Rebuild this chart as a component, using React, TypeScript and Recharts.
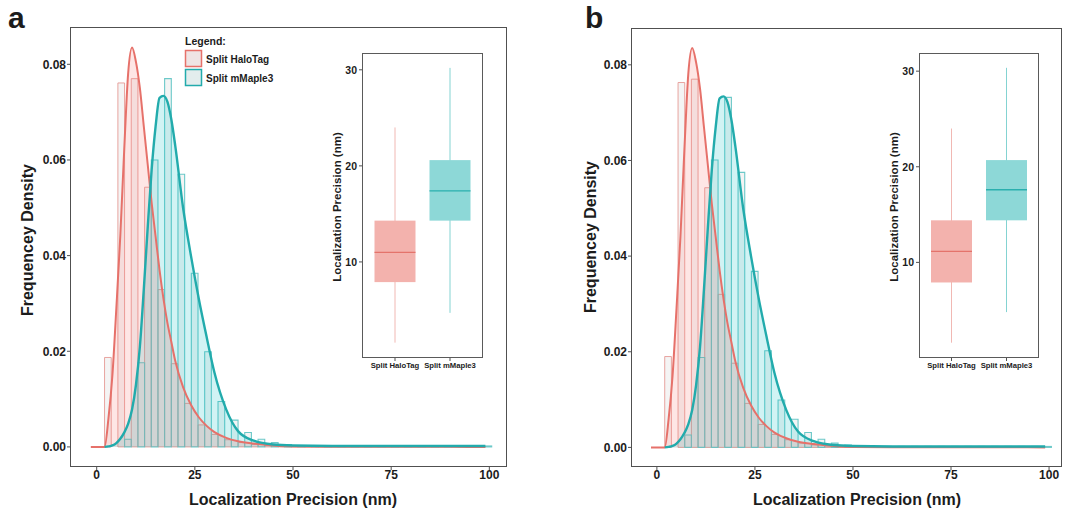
import { ComposedChart, Area, Line, Bar, XAxis, YAxis, ReferenceArea, Legend } from 'recharts';

// histogram bins (nm), each bin split in two halves: HaloTag left, mMaple3 right
const binStart = [2.0, 5.4, 8.8, 12.2, 15.6, 19.0, 22.4, 25.8, 29.2, 32.6, 36.0, 39.4, 42.8, 46.2, 49.6, 53.0, 56.4, 59.8, 63.2, 66.6, 70.0, 73.4, 76.8, 80.2, 83.6, 87.0, 90.4, 93.8, 97.2];
const BIN = 3.4;

const haloHistA = [0.0187, 0.0761, 0.0770, 0.0543, 0.0329, 0.0174, 0.0091, 0.0046, 0.0026, 0.0015, 0.0009, 0.0005, 0.0003, 0.0002, 0.0001, 0.0001, 0.0001, 0.0001, 0.0001, 0.0001, 0.0001, 0.0001, 0.0001, 0.0001, 0.0001, 0.0001, 0.0001, 0.0001, 0.0001];
const mapleHistA = [0, 0.0016, 0.0176, 0.0600, 0.0770, 0.0570, 0.0363, 0.0199, 0.0095, 0.0056, 0.0030, 0.0016, 0.0009, 0.0005, 0.0003, 0.0002, 0.0002, 0.0002, 0.0002, 0.0002, 0.0002, 0.0002, 0.0002, 0.0002, 0.0002, 0.0002, 0.0002, 0.0002, 0.0002];
const haloHistB = [0.0190, 0.0763, 0.0770, 0.0543, 0.0320, 0.0176, 0.0092, 0.0048, 0.0027, 0.0016, 0.0009, 0.0005, 0.0003, 0.0002, 0.0001, 0.0001, 0.0001, 0.0001, 0.0001, 0.0001, 0.0001, 0.0001, 0.0001, 0.0001, 0.0001, 0.0001, 0.0001, 0.0001, 0.0001];
const mapleHistB = [0, 0.0026, 0.0188, 0.0601, 0.0732, 0.0575, 0.0368, 0.0202, 0.0099, 0.0059, 0.0031, 0.0017, 0.0009, 0.0005, 0.0003, 0.0002, 0.0002, 0.0002, 0.0002, 0.0002, 0.0002, 0.0002, 0.0002, 0.0002, 0.0002, 0.0002, 0.0002, 0.0002, 0.0002];

// density curves
const densX = [-1.5, 2, 3, 4, 5, 6, 7, 8, 9, 10, 11, 12, 13, 14, 15, 16, 17, 18, 19, 20, 22, 24, 26, 28, 30, 33, 36, 40, 45, 50, 60, 70, 80, 90, 99];
const haloDens = [0, 0, 0.006, 0.015, 0.029, 0.044, 0.062, 0.078, 0.0835, 0.0805, 0.075, 0.067, 0.059, 0.051, 0.044, 0.037, 0.031, 0.026, 0.022, 0.018, 0.0125, 0.0088, 0.0062, 0.0044, 0.0031, 0.0019, 0.0012, 0.0007, 0.0003, 0.0001, 0.00005, 0.00003, 0.00002, 0.00001, 0];
const mapleDens = [null, 0, 0.0001, 0.0003, 0.0008, 0.0017, 0.003, 0.0048, 0.0078, 0.013, 0.021, 0.033, 0.046, 0.058, 0.067, 0.073, 0.0734, 0.0722, 0.0685, 0.063, 0.050, 0.040, 0.031, 0.023, 0.0155, 0.0078, 0.0033, 0.0013, 0.0005, 0.0003, 0.0002, 0.0002, 0.0002, 0.0002, 0.0002];

const xTicks = [0, 25, 50, 75, 100];
const yTicks = [0, 0.02, 0.04, 0.06, 0.08];

// inset box plots
const boxNames = ['Split HaloTag', 'Split mMaple3'];
const boxMinA = [1.6, 4.7];
const boxQ1A = [7.9, 14.3];
const boxMedA = [11.0, 17.4];
const boxQ3A = [14.3, 20.6];
const boxMaxA = [24.0, 30.2];
const boxMinB = [1.6, 4.8];
const boxQ1B = [7.9, 14.4];
const boxMedB = [11.15, 17.6];
const boxQ3B = [14.4, 20.7];
const boxMaxB = [24.0, 30.35];
const insetTicks = [10, 20, 30];

const FONT = '"Liberation Sans", Arial, Helvetica, sans-serif';
const INK = '#1c1c1c';
const FRAME = '#505050';
const RED = '#E6716A';
const TEAL = '#22ABAC';
const boxFill = ['#F3B2AD', '#8DD8D7'];
const boxMid = ['#E4736B', '#2AAFAE'];
const boxWhisk = ['#F1B8B3', '#84D3D2'];

const renderLegend = () => (
  <svg width={130} height={56} style={{ display: 'block', fontFamily: FONT }}>
    <text x={2} y={12} fontSize={10.5} fontWeight={700} fill={INK}>Legend:</text>
    {boxNames.map((name, i) => (
      <g key={name}>
        <rect x={2.5} y={17.5 + i * 19} width={16} height={16} fill={i === 0 ? '#EFE4E4' : '#E3EDED'}
          stroke={i === 0 ? RED : TEAL} strokeWidth={1.5} />
        <text x={23} y={30 + i * 19} fontSize={10} fontWeight={700} fill={INK}>{name}</text>
      </g>
    ))}
  </svg>
);

function HistPanel({ left, halo, maple, xDomain, yDomain, margin, showLegend }: any) {
  const rows = densX.map((x, i) => ({ x, halo: haloDens[i], maple: mapleDens[i] }));
  const tick = { fontSize: 12, fontWeight: 700, fill: INK, fontFamily: FONT };
  const half = BIN / 2;
  return (
    <div style={{ position: 'absolute', left, top: 0 }}>
      <ComposedChart width={530} height={513} data={rows} margin={margin}>
        <XAxis dataKey="x" type="number" domain={xDomain} allowDataOverflow ticks={xTicks}
          axisLine={false} tickSize={3} tickMargin={0} tickLine={{ stroke: FRAME }} tick={tick} height={30} />
        <YAxis type="number" domain={yDomain} allowDataOverflow ticks={yTicks} tickFormatter={(v) => v.toFixed(2)}
          axisLine={false} tickSize={3} tickMargin={1} tickLine={{ stroke: FRAME }} tick={tick} width={40} />
        {binStart.map((b, i) => (
          <ReferenceArea key={'h' + i} x1={b} x2={b + half} y1={0} y2={halo[i]} ifOverflow="visible"
            fill="#dcdcdc" fillOpacity={0.3} stroke="#E59A95" strokeWidth={0.9} />
        ))}
        {binStart.map((b, i) => (
          <ReferenceArea key={'m' + i} x1={b + half} x2={b + BIN} y1={0} y2={maple[i]} ifOverflow="visible"
            fill="#dcdcdc" fillOpacity={0.3} stroke="#6CC9C9" strokeWidth={1.1} />
        ))}
        <Area dataKey="maple" type="monotone" baseValue={0} stroke="none" fill="#00BFC4" fillOpacity={0.18} isAnimationActive={false} />
        <Area dataKey="halo" type="monotone" baseValue={0} stroke="none" fill="#F8766D" fillOpacity={0.18} isAnimationActive={false} />
        <Line dataKey="halo" type="monotone" stroke={RED} strokeWidth={2} dot={false} isAnimationActive={false} />
        <Line dataKey="maple" type="monotone" stroke={TEAL} strokeWidth={2.4} dot={false} connectNulls={false} isAnimationActive={false} />
        {showLegend && (
          <Legend layout="horizontal" verticalAlign="middle" align="center" content={renderLegend}
            wrapperStyle={{ left: 183, top: 33, width: 130, height: 56 }} />
        )}
      </ComposedChart>
    </div>
  );
}

const BoxShape = (props: any) => {
  const { x, y, width, height, payload, index } = props;
  const span = payload.max - payload.min;
  const at = (v: number) => y + (height * (payload.max - v)) / span;
  const cx = x + width / 2;
  return (
    <g>
      <line x1={cx} x2={cx} y1={y} y2={y + height} stroke={boxWhisk[index]} strokeWidth={1} />
      <rect x={x} y={at(payload.q3)} width={width} height={at(payload.q1) - at(payload.q3)} fill={boxFill[index]} />
      <line x1={x} x2={x + width} y1={at(payload.med)} y2={at(payload.med)} stroke={boxMid[index]} strokeWidth={1.4} />
    </g>
  );
};

function InsetBox({ left, width, mins, q1s, meds, q3s, maxs, yMax }: any) {
  const rows = boxNames.map((name, i) => ({ name, min: mins[i], q1: q1s[i], med: meds[i], q3: q3s[i], max: maxs[i] }));
  const plotW = width - 65;
  const pad = (plotW - 110) / 2;
  return (
    <div style={{ position: 'absolute', left, top: 48 }}>
      <ComposedChart width={width} height={335} data={rows} margin={{ top: 5, right: 5, bottom: 0, left: 30 }}>
        <XAxis dataKey="name" type="category" padding={{ left: pad, right: pad }} axisLine={false}
          tickSize={3} tickMargin={2} tickLine={{ stroke: FRAME }} interval={0}
          tick={{ fontSize: 7.7, fontWeight: 700, fill: INK, fontFamily: FONT }} height={25} />
        <YAxis type="number" domain={[0, yMax]} allowDataOverflow ticks={insetTicks} axisLine={false}
          tickSize={3} tickMargin={2} tickLine={{ stroke: FRAME }} width={30}
          tick={{ fontSize: 10.5, fontWeight: 700, fill: INK, fontFamily: FONT }} />
        <Bar dataKey={(d: any) => [d.min, d.max]} barSize={41} shape={BoxShape} isAnimationActive={false} />
      </ComposedChart>
      <div style={{ position: 'absolute', left: 60, top: 5, width: plotW, height: 305, border: '1px solid #5a5a5a', boxSizing: 'border-box', pointerEvents: 'none' }} />
    </div>
  );
}

export default function App() {
  const title = { fontFamily: FONT, fontWeight: 700, fill: INK };
  return (
    <div style={{ position: 'absolute', left: 0, top: 0, width: 1070, height: 513, background: '#fff', overflow: 'hidden' }}>
      <HistPanel left={0} halo={haloHistA} maple={mapleHistA} xDomain={[-6.8, 104.5]} yDomain={[-0.0042, 0.0878]}
        margin={{ top: 27, right: 23, bottom: 16, left: 30 }} showLegend />
      <HistPanel left={540} halo={haloHistB} maple={mapleHistB} xDomain={[-6.6, 103.3]} yDomain={[-0.0041, 0.0877]}
        margin={{ top: 28, right: 8, bottom: 16, left: 51 }} showLegend={false} />
      <div style={{ position: 'absolute', left: 70, top: 27, width: 437, height: 440, border: `1.5px solid ${FRAME}`, boxSizing: 'border-box', pointerEvents: 'none' }} />
      <div style={{ position: 'absolute', left: 631, top: 28, width: 431, height: 439, border: `1.5px solid ${FRAME}`, boxSizing: 'border-box', pointerEvents: 'none' }} />
      <InsetBox left={302} width={186} mins={boxMinA} q1s={boxQ1A} meds={boxMedA} q3s={boxQ3A} maxs={boxMaxA} yMax={31.75} />
      <InsetBox left={859} width={185} mins={boxMinB} q1s={boxQ1B} meds={boxMedB} q3s={boxQ3B} maxs={boxMaxB} yMax={31.9} />
      <svg width={1070} height={513} style={{ position: 'absolute', left: 0, top: 0, pointerEvents: 'none' }}>
        <text x={8} y={28} fontSize={30} {...title}>a</text>
        <text x={585} y={28} fontSize={30} {...title}>b</text>
        <text x={293} y={505} fontSize={16} textAnchor="middle" {...title}>Localization Precision (nm)</text>
        <text x={857} y={505} fontSize={16} textAnchor="middle" {...title}>Localization Precision (nm)</text>
        <text transform="translate(33,240) rotate(-90)" fontSize={16} textAnchor="middle" {...title}>Frequencey Density</text>
        <text transform="translate(596,237) rotate(-90)" fontSize={16} textAnchor="middle" {...title}>Frequencey Density</text>
        <text transform="translate(341,207) rotate(-90)" fontSize={11.5} textAnchor="middle" {...title}>Localization Precision (nm)</text>
        <text transform="translate(898,207) rotate(-90)" fontSize={11.5} textAnchor="middle" {...title}>Localization Precision (nm)</text>
      </svg>
    </div>
  );
}
